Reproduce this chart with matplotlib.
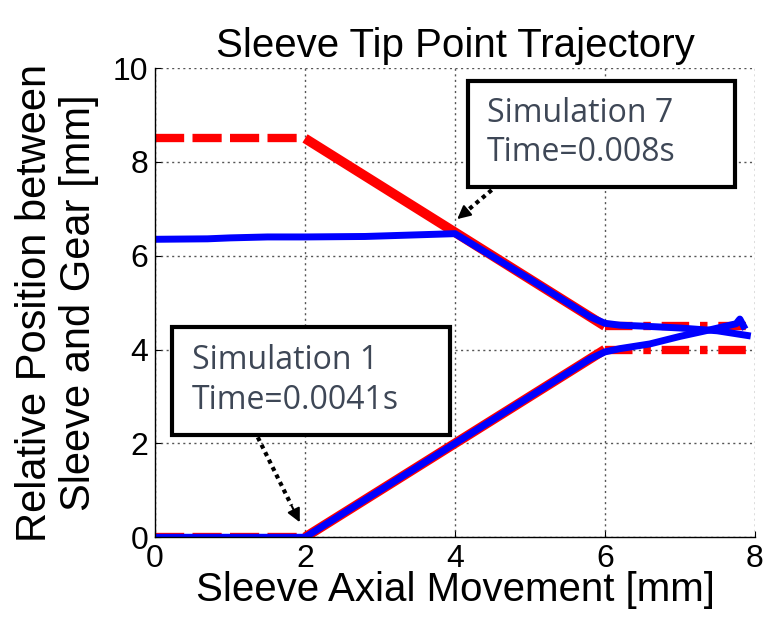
import numpy as np
import matplotlib.pyplot as plt
from matplotlib.patches import Rectangle

plt.rcParams['font.family'] = ['Liberation Sans', 'DejaVu Sans']

# reference trajectories (ideal tooth contact paths)
ref_up_flat_x = [0, 2]
ref_up_flat_y = [8.5, 8.5]
ref_up_ramp_x = [2, 6]
ref_up_ramp_y = [8.5, 4.5]
ref_up_end_x = [6, 8]
ref_up_end_y = [4.5, 4.5]

ref_lo_flat_x = [0, 2]
ref_lo_flat_y = [0, 0]
ref_lo_ramp_x = [2, 6]
ref_lo_ramp_y = [0, 4]
ref_lo_end_x = [6, 8]
ref_lo_end_y = [4.0, 4.0]

# simulated sleeve tip paths
sim7_x = [0, 0.7, 1.0, 1.5, 2.0, 2.8, 3.2, 3.6, 4.0, 5.0, 5.8, 6.0, 6.2, 6.5, 7.0, 7.5, 7.9]
sim7_y = [6.35, 6.36, 6.38, 6.40, 6.40, 6.41, 6.43, 6.45, 6.47, 5.5, 4.7, 4.56, 4.52, 4.5, 4.46, 4.4, 4.3]

sim1_x = [0, 1.0, 2.0, 3.0, 4.0, 5.0, 5.8, 6.0, 6.2, 6.6, 7.0, 7.4, 7.75, 7.8, 7.85]
sim1_y = [0, 0, 0, 1.0, 2.0, 3.0, 3.8, 3.95, 4.02, 4.12, 4.28, 4.42, 4.55, 4.65, 4.5]

xticks = [0, 2, 4, 6, 8]
yticks = [0, 2, 4, 6, 8, 10]

fig = plt.figure(figsize=(7.64, 6.24), dpi=100)
ax = fig.add_axes([0.203, 0.139, 0.785, 0.752])

lw_r = 6.0
lw_b = 5.0
red = '#ff0000'
blue = '#0000ff'

ax.plot(ref_up_flat_x, ref_up_flat_y, color=red, lw=lw_r, dashes=(3.5, 1.0), solid_capstyle='butt')
ax.plot(ref_up_ramp_x, ref_up_ramp_y, color=red, lw=lw_r + 1, solid_capstyle='butt')
ax.plot(ref_up_end_x, ref_up_end_y, color=red, lw=lw_r, dashes=(3.3, 1.3, 0.9, 1.3))
ax.plot(ref_lo_flat_x, ref_lo_flat_y, color=red, lw=lw_r, dashes=(3.5, 1.0))
ax.plot(ref_lo_ramp_x, ref_lo_ramp_y, color=red, lw=lw_r + 1, solid_capstyle='butt')
ax.plot(ref_lo_end_x, ref_lo_end_y, color=red, lw=lw_r, dashes=(3.3, 1.3, 0.9, 1.3))

ax.plot(sim7_x, sim7_y, color=blue, lw=lw_b, solid_joinstyle='round')
ax.plot(sim1_x, sim1_y, color=blue, lw=lw_b, solid_joinstyle='round')

ax.set_xlim(0, 8)
ax.set_ylim(0, 10)
ax.set_xticks(xticks)
ax.set_yticks(yticks)
ax.tick_params(direction='in', length=4, width=0.8, labelsize=23, pad=5)
ax.grid(True, color='#555555', linestyle=(0, (1.5, 2.5)), linewidth=1.0)
for s in ['top', 'right']:
    ax.spines[s].set_visible(False)
for s in ['left', 'bottom']:
    ax.spines[s].set_linewidth(1.0)

ax.set_title('Sleeve Tip Point Trajectory', fontsize=29, pad=8)
ax.set_xlabel('Sleeve Axial Movement [mm]', fontsize=29, labelpad=-2)
ax.set_ylabel('Relative Position between\nSleeve and Gear [mm]', fontsize=30,
              labelpad=10, linespacing=1.12)

# callout boxes
box_color = '#3e4756'
ax.add_patch(Rectangle((0.23, 2.17), 3.70, 2.31, facecolor='white',
                       edgecolor='black', lw=3, zorder=5))
ax.text(0.49, 3.77, 'Simulation 1', fontsize=23, color=box_color,
        family=['Open Sans', 'DejaVu Sans'], va='center', zorder=6)
ax.text(0.49, 2.92, 'Time=0.0041s', fontsize=23, color=box_color,
        family=['Open Sans', 'DejaVu Sans'], va='center', zorder=6)

ax.add_patch(Rectangle((4.17, 7.46), 3.56, 2.26, facecolor='white',
                       edgecolor='black', lw=3, zorder=5))
ax.text(4.43, 9.04, 'Simulation 7', fontsize=23, color=box_color,
        family=['Open Sans', 'DejaVu Sans'], va='center', zorder=6)
ax.text(4.43, 8.19, 'Time=0.008s', fontsize=23, color=box_color,
        family=['Open Sans', 'DejaVu Sans'], va='center', zorder=6)

# dotted pointers
arrows = [((1.37, 2.13), (1.93, 0.32)), ((4.49, 7.4), (4.03, 6.78))]
for (x0, y0), (x1, y1) in arrows:
    fx = x0 + 0.8 * (x1 - x0)
    fy = y0 + 0.8 * (y1 - y0)
    ax.plot([x0, fx], [y0, fy], color='black', lw=3, linestyle=(0, (1, 1)), zorder=6)
    ax.annotate('', xy=(x1, y1), xytext=(fx, fy),
                arrowprops=dict(arrowstyle='-|>,head_length=0.8,head_width=0.4',
                                color='black', lw=1.5, shrinkA=0, shrinkB=0), zorder=6)

fig.savefig('out.png', dpi=100)
